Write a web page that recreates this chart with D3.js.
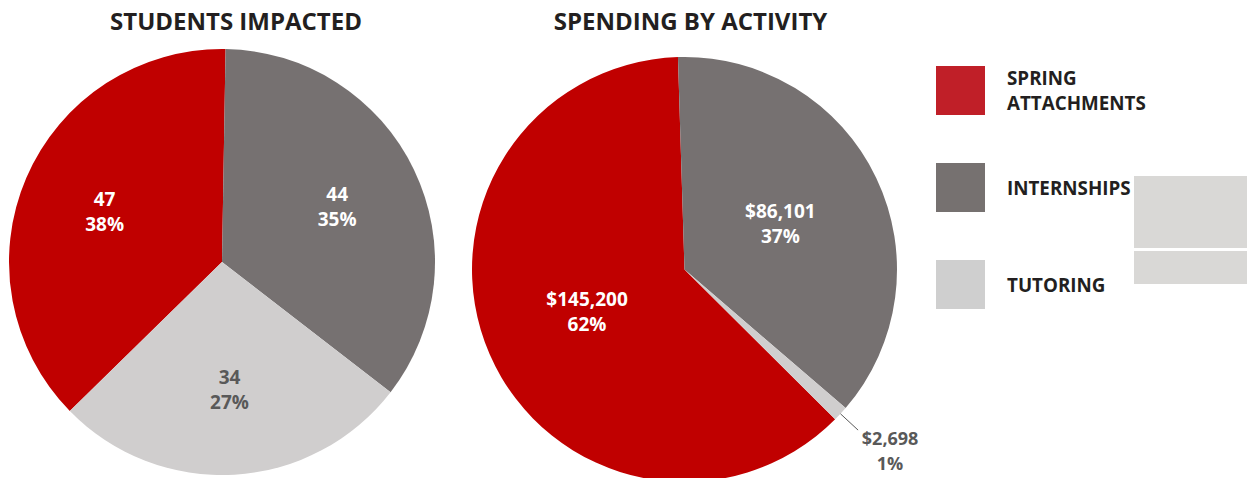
<!DOCTYPE html>
<html>
<head>
<meta charset="utf-8">
<script src="https://cdn.jsdelivr.net/npm/d3@7"></script>
<style>
  html, body { margin: 0; padding: 0; background: #ffffff; overflow: hidden; }
  svg { display: block; font-family: "Open Sans", "Noto Sans", sans-serif; font-weight: 700; }
</style>
</head>
<body>
<svg id="chart" width="1247" height="478"></svg>
<script>
// ---- data ----
const categories = ["SPRING ATTACHMENTS", "INTERNSHIPS", "TUTORING"];
const legendLines = [["SPRING", "ATTACHMENTS"], ["INTERNSHIPS"], ["TUTORING"]];
const studentsValues = [47, 44, 34];
const studentsPct = ["38%", "35%", "27%"];
const spendingValues = [145200, 86101, 2698];
const spendingPct = ["62%", "37%", "1%"];
const chartTitles = ["STUDENTS IMPACTED", "SPENDING BY ACTIVITY"];

// ---- styles ----
const pieColors = ["#c00000", "#767171", "#d0cece"];
const legendColors = ["#c01f28", "#767170", "#cfcfcf"];
const labelColors = ["#ffffff", "#ffffff", "#595959"];
const titleColor = "#231f20";

const svg = d3.select("#chart");
const deg = Math.PI / 180;

const color = d3.scaleOrdinal().domain(categories).range(pieColors);
const legendColor = d3.scaleOrdinal().domain(categories).range(legendColors);
const labelColor = d3.scaleOrdinal().domain(categories).range(labelColors);

const fmtMoney = v => "$" + d3.format(",")(v);

const charts = [
  { title: chartTitles[0], values: studentsValues, pct: studentsPct, fmt: d3.format("d"),
    cx: 222, cy: 262, r: 213, start: -134.4, labelR: 0.6, titleX: 236, outsideBelow: 0.02 },
  { title: chartTitles[1], values: spendingValues, pct: spendingPct, fmt: fmtMoney,
    cx: 684.5, cy: 269.5, r: 212.5, start: -225.15, labelR: 0.5, titleX: 690.5, outsideBelow: 0.02 }
];

charts.forEach(c => {
  const data = categories.map((k, i) => ({ key: k, value: c.values[i], pct: c.pct[i] }));
  const total = d3.sum(data, d => d.value);
  const pie = d3.pie().sort(null).value(d => d.value)
    .startAngle(c.start * deg).endAngle(c.start * deg + 2 * Math.PI);
  const arcs = pie(data);
  const arc = d3.arc().innerRadius(0).outerRadius(c.r);
  const labelArc = d3.arc().innerRadius(c.r * c.labelR).outerRadius(c.r * c.labelR);

  const g = svg.append("g").attr("transform", `translate(${c.cx},${c.cy})`);
  g.selectAll("path.slice").data(arcs).join("path")
    .attr("class", "slice")
    .attr("d", arc)
    .attr("fill", d => color(d.data.key));

  arcs.forEach(a => {
    const small = a.data.value / total < c.outsideBelow;
    const mid = (a.startAngle + a.endAngle) / 2;
    let x, y, fill, size = 19;
    if (small) {
      const p0 = [Math.sin(mid) * c.r, -Math.cos(mid) * c.r];
      const p1 = [Math.sin(mid) * (c.r + 24), -Math.cos(mid) * (c.r + 24)];
      g.append("line")
        .attr("x1", p0[0]).attr("y1", p0[1]).attr("x2", p1[0]).attr("y2", p1[1])
        .attr("stroke", "#595959").attr("stroke-width", 1);
      x = p1[0] + 32; y = p1[1] + 15;
      size = 18;
      fill = "#595959";
    } else {
      [x, y] = labelArc.centroid(a);
      y -= 5.5;
      fill = labelColor(a.data.key);
    }
    const t = g.append("text")
      .attr("text-anchor", "middle")
      .attr("fill", fill)
      .attr("font-size", size);
    t.append("tspan").attr("x", x).attr("y", y).text(c.fmt(a.data.value));
    t.append("tspan").attr("x", x).attr("dy", 25).text(a.data.pct);
  });

  svg.append("text")
    .attr("x", c.titleX).attr("y", 30)
    .attr("text-anchor", "middle")
    .attr("fill", titleColor)
    .attr("font-size", 24)
    .text(c.title);
});

// ---- legend ----
const legend = svg.append("g").attr("transform", "translate(936,66)");
const legendY = d3.scalePoint().domain(categories).range([0, 194]);
categories.forEach((k, i) => {
  const gy = legendY(k);
  legend.append("rect")
    .attr("x", 0).attr("y", gy).attr("width", 49).attr("height", 49)
    .attr("fill", legendColor(k));
  const lines = legendLines[i];
  const t = legend.append("text")
    .attr("fill", titleColor)
    .attr("font-size", 18.8);
  const firstBase = lines.length === 1 ? gy + 32 : gy + 19;
  lines.forEach((ln, j) => {
    t.append("tspan").attr("x", 71).attr("y", firstBase + j * 25).text(ln);
  });
});

// ---- decorative grey blocks at right edge ----
svg.append("rect").attr("x", 1134).attr("y", 176).attr("width", 113).attr("height", 72).attr("fill", "#d9d8d6");
svg.append("rect").attr("x", 1134).attr("y", 251).attr("width", 113).attr("height", 33).attr("fill", "#d9d8d6");
</script>
</body>
</html>
